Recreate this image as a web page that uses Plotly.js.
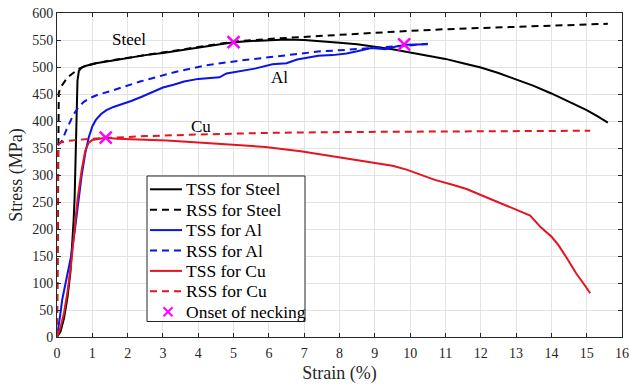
<!DOCTYPE html>
<html>
<head>
<meta charset="utf-8">
<script src="https://cdn.plot.ly/plotly-3.0.1.min.js"></script>
<style>
  html, body { margin: 0; padding: 0; background: #fff; }
  #chart { width: 630px; height: 388px; }
</style>
</head>
<body>
<div id="chart"></div>
<script>
// True (TSS) and reconstructed (RSS) stress-strain curves, strain in %, stress in MPa
const steelTssStrain = [0,0.1,0.2,0.3,0.38,0.43,0.47,0.5,0.52,0.54,0.56,0.58,0.62,0.7,0.8,1.1,1.5,2,2.5,3,3.5,4,4.5,5,5.5,6,6.5,7,7.5,8,8.5,9,9.5,10,10.5,11,11.5,12,12.5,13,13.5,14,14.5,15,15.3,15.6];
const steelTssStress = [0,10,35,75,120,165,215,260,320,390,440,475,493,499,502,507,511,517,522,526,531,536,541,546,548,550,551,550,548,545,542,538,533,527,521,515,507,499,489,477,465,451,436,420,409,397];

const steelRssStrain = [0,0.01,0.02,0.03,0.05,0.1,0.18,0.3,0.46,0.6,0.8,1.1,1.5,2,2.5,3,4,5,6,7,8,9,10,11,12,13,14,15,15.6];
const steelRssStress = [0,150,300,400,452,462,470,481,489,496,502,507,512,517,522,527,537,547,552,556,560,564,567,570,572,574,576,578,580];

const alTssStrain = [0,0.05,0.1,0.15,0.25,0.4,0.5,0.6,0.7,0.8,0.9,1.0,1.1,1.25,1.4,1.6,1.85,2.1,2.4,2.7,3.0,3.3,3.6,4.0,4.3,4.6,4.8,5.2,5.6,6.1,6.5,6.8,7.1,7.4,7.8,8.2,8.5,8.9,9.3,9.6,9.9,10.2,10.5];
const alTssStress = [0,20,45,70,100,150,195,250,300,340,370,390,402,413,420,426,431,437,445,454,462,467,473,478,480,481,488,492,497,505,507,514,517,521,522,525,529,535,533,538,541,541,542];

const alRssStrain = [0.02,0.13,0.27,0.37,0.46,0.6,0.75,0.95,1.17,1.5,1.74,2.35,3.3,4.2,5.2,6.1,7.0,7.45,8.0,9.0,10.0,10.5];
const alRssStress = [355,362,384,400,411,425,435,443,449,455,460,473,490,503,512,519,526,529,531,535,540,543];

const cuTssStrain = [0,0.1,0.2,0.3,0.4,0.5,0.58,0.7,0.8,0.9,1.0,1.2,1.4,1.7,2.2,2.5,3.1,4.0,5.0,5.9,6.9,7.5,8.0,8.5,9.0,9.5,9.9,10.3,10.7,11.2,11.6,12.0,12.5,13.0,13.4,13.7,14.0,14.2,14.45,14.7,14.9,15.1];
const cuTssStress = [0,18,45,85,135,195,254,310,345,360,365,367,369,367,366,365,364,360,356,352,344,338,333,328,323,317,310,301,291,282,274,263,250,236,225,203,186,170,145,118,100,81];

const cuRssStrain = [0,0.03,0.1,0.3,0.9,1.5,2.5,4,6,8,10,12,15.1];
const cuRssStress = [0,355,360,363,367,369,372,375,378,379.5,380.5,381,382];

// Onset of necking for Cu, Steel, Al
const neckStrain = [1.38, 5.0, 9.83];
const neckStress = [369, 546, 542];

// Material labels placed next to their curves
const labelText = ['Steel', 'Al', 'Cu'];
const labelStrain = [2.03, 6.29, 4.08];
const labelStress = [551, 480, 390];

const legendNames = ['TSS for Steel', 'RSS for Steel', 'TSS for Al', 'RSS for Al', 'TSS for Cu', 'RSS for Cu', 'Onset of necking'];

const SERIF = 'Times New Roman, Liberation Serif, DejaVu Serif, serif';
const BLACK = '#000000', BLUE = '#0a14e6', RED = '#e6141e', MAGENTA = '#ff00ff';
const DASH = '7px,5px';

function line(x, y, color, dashed) {
  return {
    x: x, y: y, type: 'scatter', mode: 'lines', showlegend: false,
    line: { color: color, width: 2, dash: dashed ? DASH : 'solid' },
    hoverinfo: 'skip'
  };
}

const traces = [
  line(steelTssStrain, steelTssStress, BLACK, false),
  line(steelRssStrain, steelRssStress, BLACK, true),
  line(alTssStrain, alTssStress, BLUE, false),
  line(alRssStrain, alRssStress, BLUE, true),
  line(cuTssStrain, cuTssStress, RED, false),
  line(cuRssStrain, cuRssStress, RED, true),
  {
    x: neckStrain, y: neckStress, type: 'scatter', mode: 'markers', showlegend: false,
    marker: { symbol: 'x-thin', size: 12, line: { color: MAGENTA, width: 2.5 } },
    hoverinfo: 'skip'
  }
];

// Plot area geometry (pixels) used to lay out the boxed legend
const W = 630, H = 388;
const M = { l: 57, r: 8, t: 13, b: 51 };
const PW = W - M.l - M.r, PH = H - M.t - M.b;
const px = v => (v - M.l) / PW;
const py = v => (H - M.b - v) / PH;

const shapes = [{
  type: 'rect', xref: 'paper', yref: 'paper',
  x0: px(147), x1: px(305), y0: py(321.5), y1: py(176),
  line: { color: '#262626', width: 1 }, fillcolor: '#ffffff', layer: 'above'
}];
const annotations = [];

labelText.forEach((t, i) => annotations.push({
  x: labelStrain[i], y: labelStress[i], xref: 'x', yref: 'y', text: t,
  showarrow: false, font: { family: SERIF, size: 17, color: '#000' }
}));

const legendStyles = [
  [BLACK, 'solid'], [BLACK, 'dash'], [BLUE, 'solid'], [BLUE, 'dash'],
  [RED, 'solid'], [RED, 'dash'], [MAGENTA, 'marker']
];
legendNames.forEach((name, i) => {
  const yc = 189.3 + i * 20.4;
  const [color, kind] = legendStyles[i];
  if (kind === 'marker') {
    const cx = 168, h = 4.5;
    shapes.push({
      type: 'path', xref: 'paper', yref: 'paper', layer: 'above',
      path: `M${px(cx - h)},${py(yc - h)} L${px(cx + h)},${py(yc + h)} M${px(cx - h)},${py(yc + h)} L${px(cx + h)},${py(yc - h)}`,
      line: { color: color, width: 2 }
    });
  } else {
    shapes.push({
      type: 'line', xref: 'paper', yref: 'paper', layer: 'above',
      x0: px(150), x1: px(182), y0: py(yc), y1: py(yc),
      line: { color: color, width: 2, dash: kind === 'dash' ? DASH : 'solid' }
    });
  }
  annotations.push({
    x: px(183.5), y: py(yc), xref: 'paper', yref: 'paper', text: name,
    xanchor: 'left', yanchor: 'middle', showarrow: false,
    font: { family: SERIF, size: 17.5, color: '#000' }
  });
});

const axisCommon = {
  showline: true, linecolor: '#262626', linewidth: 1, mirror: 'ticks',
  ticks: 'inside', ticklen: 4, tickcolor: '#262626', tickwidth: 1,
  showgrid: true, gridcolor: '#e3e3e3', gridwidth: 1, zeroline: false,
  tickfont: { family: SERIF, size: 14, color: '#262626' }
};

const layout = {
  width: W, height: H, margin: M,
  font: { family: SERIF },
  paper_bgcolor: '#ffffff', plot_bgcolor: '#ffffff',
  showlegend: false,
  xaxis: Object.assign({}, axisCommon, {
    range: [0, 16], dtick: 1, tick0: 0, ticklabelstandoff: 3,
    title: { text: 'Strain (%)', font: { family: SERIF, size: 18, color: '#262626' }, standoff: 6 }
  }),
  yaxis: Object.assign({}, axisCommon, {
    range: [0, 600], dtick: 50, tick0: 0,
    title: { text: 'Stress (MPa)', font: { family: SERIF, size: 18, color: '#262626' }, standoff: 4 }
  }),
  shapes: shapes,
  annotations: annotations
};

Plotly.newPlot('chart', traces, layout, { staticPlot: true, displayModeBar: false });
</script>
</body>
</html>
